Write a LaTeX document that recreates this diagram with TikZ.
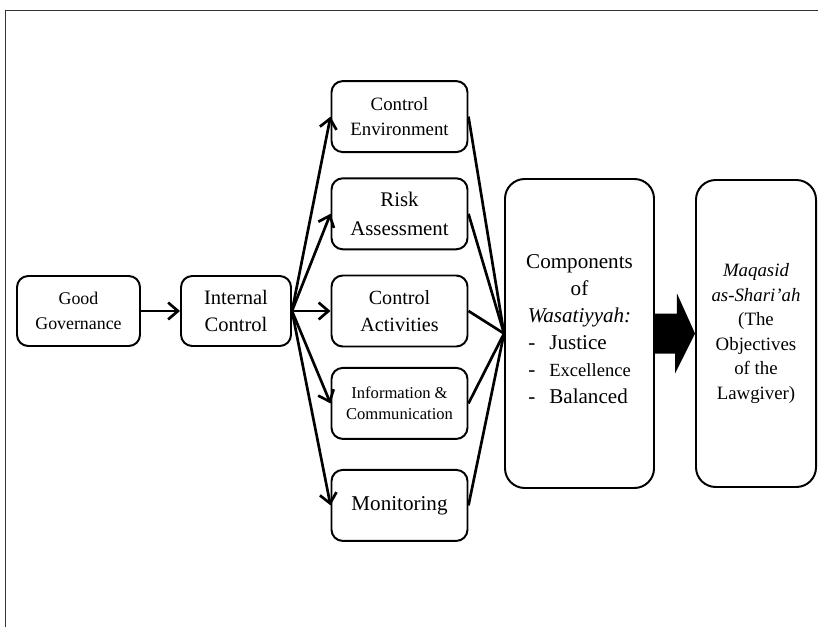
\documentclass[tikz,border=0pt]{standalone}
\usepackage{fontspec}
\setmainfont{Liberation Serif}
\usetikzlibrary{arrows.meta,positioning}
\tikzstyle{block} = [draw, rectangle, rounded corners=8pt, line width=1.4pt, align=center, inner sep=2pt, minimum width=3.4cm, minimum height=1.775cm]
\tikzstyle{tall} = [block, rounded corners=14pt, minimum height=7.7cm]
\tikzstyle{link} = [line width=1.9pt]

\begin{document}
\begin{tikzpicture}[auto, node distance=2.43cm, >={Straight Barb[length=7pt,width=12pt]}]

\useasboundingbox (-1.9625,-7.9) rectangle (18.4875,7.775);
\draw [line width=0.7pt, black!80] (-1.8375,-7.9) -- (-1.8375,7.525) -- (18.4875,7.525);

\node [block, minimum width=3.075cm, minimum height=1.75cm, font=\fontsize{12.7}{17.7}\selectfont] (gg) {Good\\Governance};
\node [block, right of=gg, node distance=3.9375cm, minimum width=2.75cm, minimum height=1.75cm, font=\fontsize{14.6}{19}\selectfont] (ic) {Internal\\Control};
\node [block, right of=ic, node distance=4.0875cm, font=\fontsize{14.3}{19}\selectfont] (ca) {Control\\Activities};
\node [block, above of=ca, font=\fontsize{14.8}{20.5}\selectfont] (ra) {Risk\\Assessment};
\node [block, above of=ra, font=\fontsize{13.4}{18.4}\selectfont] (ce) {Control\\Environment};
\node [block, below of=ca, node distance=2.31cm, font=\fontsize{11.8}{15}\selectfont] (infc) {Information \&\\Communication};
\node [block, below of=infc, node distance=2.55cm, font=\fontsize{15}{19}\selectfont] (mon) {Monitoring};

% wasatiyyah and maqasid
\node [tall, right of=ca, node distance=4.5cm, yshift=-0.5625cm, minimum width=3.725cm, minimum height=7.725cm, font=\fontsize{15}{19.2}\selectfont] (comp) {Components\\of\\\textit{Wasatiyyah:}\\
\begin{tabular}[t]{@{}l@{\hspace{10pt}}l@{}}
- & Justice\\
- & {\fontsize{13.2}{19}\selectfont Excellence}\\
- & Balanced
\end{tabular}};
\node [tall, right of=comp, node distance=4.4125cm, minimum width=3.0cm, minimum height=7.675cm, font=\fontsize{13.4}{17.5}\selectfont] (maq) {\textit{Maqasid}\\\textit{as-Shari’ah}\\(The\\Objectives\\of the\\Lawgiver)};

\draw [->, link] (gg) -- (ic);
\draw [->, link] (ic.east) -- (ce.west);
\draw [->, link] (ic.east) -- (ra.west);
\draw [->, link] (ic.east) -- (ca.west);
\draw [->, link] (ic.east) -- (infc.west);
\draw [->, link] (ic.east) -- (mon.west);

\draw [link] (ce.east) -- (comp.west);
\draw [link] (ra.east) -- (comp.west);
\draw [link] (ca.east) -- (comp.west);
\draw [link] (infc.east) -- (comp.west);
\draw [link] (mon.east) -- (comp.west);

\fill (comp.east) ++(0,0.5) -- ++(0.55,0) -- ++(0,0.5) -- (maq.west) -- ++(-0.5,-1) -- ++(0,0.5) -- ++(-0.55,0) -- cycle;
\end{tikzpicture}
\end{document}
